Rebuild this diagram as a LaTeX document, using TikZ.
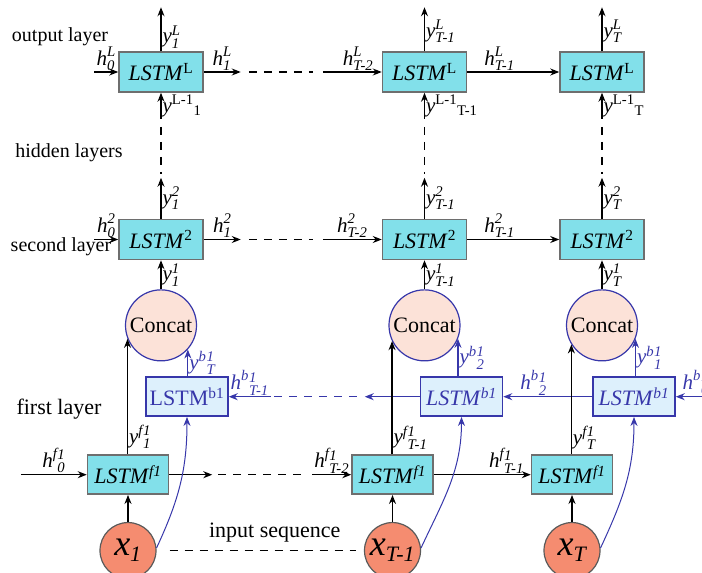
\documentclass[tikz,border=0pt]{standalone}
\usepackage{amsmath}
\usepackage{fontspec}
\setmainfont{Liberation Serif}
\usetikzlibrary{arrows, arrows.meta, positioning}
\definecolor{cellfill}{RGB}{130,224,234}
\definecolor{cellline}{RGB}{110,110,110}
\definecolor{bfill}{RGB}{221,240,252}
\definecolor{blueline}{RGB}{55,55,170}
\definecolor{catfill}{RGB}{252,226,216}
\definecolor{infill}{RGB}{245,140,112}
\definecolor{inline}{RGB}{90,90,90}
\tikzstyle{cell} = [rectangle, draw=cellline, fill=cellfill, line width=1.5pt, minimum width=84pt, minimum height=40pt, inner sep=0pt, font=\fontsize{22}{24}\selectfont]
\tikzstyle{fcell} = [cell, minimum width=81pt, minimum height=39pt]
\tikzstyle{bcell} = [cell, draw=blueline, fill=bfill, text=blueline, minimum width=82pt, minimum height=39pt]
\tikzstyle{concat} = [circle, draw=blueline, fill=catfill, line width=1.2pt, minimum size=71pt, inner sep=0pt, font=\fontsize{22}{24}\selectfont]
\tikzstyle{inp} = [circle, draw=inline, fill=infill, line width=1.2pt, minimum size=56pt, inner sep=0pt, font=\fontsize{36}{38}\selectfont]
\tikzstyle{line} = [line width=1.2pt, ->, >={Stealth[length=9pt, width=7pt]}]
\tikzstyle{bline} = [line, draw=blueline]
\tikzstyle{dashline} = [line width=1.5pt, dash pattern=on 8pt off 7pt]
\tikzstyle{txt} = [font=\fontsize{20}{24}\selectfont]
\tikzstyle{lbl} = [inner sep=1pt, font=\fontsize{21}{24}\selectfont]
\newcommand{\vlab}[3]{$\textit{#1}^{\textit{#2}}_{\textit{#3}}$}
\newcommand{\ylow}[1]{$\textit{y}^{\textup{L-1}}{}_{\textup{#1}}$}
\newcommand{\blab}[2]{$\textit{#1}^{\textit{b}}{}^{\textit{1}}_{\textit{#2}}$}
\newcommand{\flab}[2]{$\textit{#1}^{\textit{f}}{}^{\textit{1}}_{\textit{#2}}$}
\newcommand{\xin}[1]{$\textit{x}_{\textit{\fontsize{22}{22}\selectfont #1}}$}

\begin{document}
\begin{tikzpicture}[x=1pt, y=-1pt, node distance=30pt]
\useasboundingbox (0,0) rectangle (702,573);
% output layer
\node (lL1) [cell] at (161,72) {\textit{LSTM}\textsuperscript{L}};
\node (lL2) [cell, right=178pt of lL1] {\textit{LSTM}\textsuperscript{L}};
\node (lL3) [cell, right=92pt of lL2] {\textit{LSTM}\textsuperscript{L}};
% second layer
\node (l21) [cell, below=126pt of lL1] {\textit{LSTM}\textsuperscript{2}};
\node (l22) [cell, below=126pt of lL2] {\textit{LSTM}\textsuperscript{2}};
\node (l23) [cell, below=126pt of lL3] {\textit{LSTM}\textsuperscript{2}};
% concat
\node (c1) [concat, below=29pt of l21] {Concat};
\node (c2) [concat, below=29pt of l22] {Concat};
\node (c3) [concat, below=29pt of l23] {Concat};
% first layer, backward
\node (b11) [bcell, below=15pt of c1, xshift=26pt] {LSTM\textsuperscript{b1}};
\node (b12) [bcell, below=15pt of c2, xshift=37pt] {\textit{LSTM}\textsuperscript{\itshape b1}};
\node (b13) [bcell, below=15pt of c3, xshift=32pt] {\textit{LSTM}\textsuperscript{\itshape b1}};
% first layer, forward
\node (f11) [fcell, below=93pt of c1, xshift=-33pt] {\textit{LSTM}\textsuperscript{\itshape f1}};
\node (f12) [fcell, right=182pt of f11] {\textit{LSTM}\textsuperscript{\itshape f1}};
\node (f13) [fcell, right=97pt of f12] {\textit{LSTM}\textsuperscript{\itshape f1}};
% inputs
\node (x1) [inp, below=27pt of f11] {\xin{1}};
\node (x2) [inp, below=27pt of f12] {\xin{T-1}};
\node (x3) [inp, below=27pt of f13] {\xin{T}};

\node (tout) [txt] at (60,37) {output layer};
\node (thid) [txt] at (69,153) {hidden layers};
\node (tsec) [txt] at (61,247) {second layer};
\node (tfirst) [txt, font=\fontsize{22}{24}\selectfont] at (59,409) {first layer};

\coordinate [left=24pt of lL1] (inL);
\coordinate [right=37pt of lL1] (aL);
\coordinate [left=59pt of lL2] (bL);
\coordinate [above=44pt of lL1] (oL1);
\coordinate [above=44pt of lL2] (oL2);
\coordinate [above=44pt of lL3] (oL3);
\coordinate [below=26pt of lL1] (dL1);
\coordinate [below=26pt of lL2] (dL2);
\coordinate [below=26pt of lL3] (dL3);
\coordinate [left=24pt of l21] (in2);
\coordinate [right=37pt of l21] (a2);
\coordinate [left=59pt of l22] (b2);
\coordinate [above=41pt of l21] (o21);
\coordinate [above=41pt of l22] (o22);
\coordinate [above=41pt of l23] (o23);
\coordinate [right=40pt of b13] (inb);
\coordinate [left=55pt of b12] (ab);
\coordinate [right=42pt of b11] (bb);
\coordinate [left=66pt of f11] (inf);
\coordinate [right=43pt of f11] (af);
\coordinate [left=39pt of f12] (bf);

% output layer
\draw [line] (inL) -- node[lbl, above]{\vlab{h}{L}{0}} (lL1);
\draw [line] (lL1) -- node[lbl, above]{\vlab{h}{L}{1}} (aL);
\draw [dashline] ([xshift=8pt]aL) -- ([xshift=-10pt]bL);
\draw [line] (bL) -- node[lbl, above, pos=.6]{\vlab{h}{L}{T-2}} (lL2);
\draw [line] (lL2) -- node[lbl, above, pos=.35]{\vlab{h}{L}{T-1}} (lL3);
\draw [line] (lL1) -- node[lbl, right, pos=.32]{\vlab{y}{L}{1}} (oL1);
\draw [line] (lL2) -- node[lbl, right, pos=.45]{\vlab{y}{L}{T-1}} (oL2);
\draw [line] (lL3) -- node[lbl, right, pos=.45]{\vlab{y}{L}{T}} (oL3);
\draw [line] (dL1) -- node[lbl, right]{\ylow{1}} (lL1);
\draw [line] (dL2) -- node[lbl, right]{\ylow{T-1}} (lL2);
\draw [line] (dL3) -- node[lbl, right]{\ylow{T}} (lL3);
\draw [dashline] ([yshift=-8pt]dL1) -- ([yshift=4pt]o21);
\draw [dashline] ([yshift=-8pt]dL2) -- ([yshift=4pt]o22);
\draw [dashline] ([yshift=-8pt]dL3) -- ([yshift=4pt]o23);

% second layer
\draw [line] (in2) -- node[lbl, above]{\vlab{h}{2}{0}} (l21);
\draw [line] (l21) -- node[lbl, above]{\vlab{h}{2}{1}} (a2);
\draw [dashline] ([xshift=8pt]a2) -- ([xshift=-10pt]b2);
\draw [line] (b2) -- node[lbl, above, pos=.5]{\vlab{h}{2}{T-2}} (l22);
\draw [line] (l22) -- node[lbl, above, pos=.35]{\vlab{h}{2}{T-1}} (l23);
\draw [line] (l21) -- node[lbl, right]{\vlab{y}{2}{1}} (o21);
\draw [line] (l22) -- node[lbl, right]{\vlab{y}{2}{T-1}} (o22);
\draw [line] (l23) -- node[lbl, right]{\vlab{y}{2}{T}} (o23);
\draw [line] (c1) -- node[lbl, right]{\vlab{y}{1}{1}} (l21);
\draw [line] (c2) -- node[lbl, right]{\vlab{y}{1}{T-1}} (l22);
\draw [line] (c3) -- node[lbl, right]{\vlab{y}{1}{T}} (l23);

% backward direction
\draw [bline] (inb) -- node[lbl, above, text=blueline]{\blab{h}{0}} (b13);
\draw [bline] (b13) -- node[lbl, above, pos=.66, text=blueline]{\blab{h}{2}} (b12);
\draw [bline] (b12) -- (ab);
\draw [dashline, draw=blueline] ([xshift=-8pt]ab) -- ([xshift=3pt]bb);
\draw [bline] (bb) -- node[lbl, above, text=blueline]{\blab{h}{T-1}} (b11);
\draw [bline] (c1.-42 |- b11.north) -- node[lbl, right, text=blueline]{\blab{y}{T}} (c1.-42);
\draw [bline] (c2.-22 |- b12.north) -- node[lbl, right, text=blueline]{\blab{y}{2}} (c2.-22);
\draw [bline] (c3.-22 |- b13.north) -- node[lbl, right, text=blueline]{\blab{y}{1}} (c3.-22);

% forward direction
\draw [line] (inf) -- node[lbl, above]{\flab{h}{0}} (f11);
\draw [line] (f11) -- (af);
\draw [dashline] ([xshift=6pt]af) -- ([xshift=-9pt]bf);
\draw [line] (bf) -- node[lbl, above]{\flab{h}{T-2}} (f12);
\draw [line] (f12) -- node[lbl, above, pos=.75]{\flab{h}{T-1}} (f13);
\draw [line] (c1.-158 |- f11.north) -- node[lbl, right, pos=.15]{\flab{y}{1}} (c1.-158);
\draw [line] (c2.-154 |- f12.north) -- node[lbl, right, pos=.15]{\flab{y}{T-1}} (c2.-154);
\draw [line] (c3.-148 |- f13.north) -- node[lbl, right, pos=.15]{\flab{y}{T}} (c3.-148);

% inputs
\draw [line] (x1) -- (f11);
\draw [line] (x2) -- (f12);
\draw [line] (x3) -- (f13);
\draw [bline, line width=1pt] (x1.5) to[out=65, in=-90] (b11.south);
\draw [bline, line width=1pt] (x2.5) to[out=65, in=-90] (b12.south);
\draw [bline, line width=1pt] (x3.5) to[out=65, in=-90] (b13.south);
\draw [dashline, shorten <=13pt, shorten >=8pt] (x1) -- node[txt, above=4pt, pos=.57, font=\fontsize{22}{24}\selectfont]{input sequence} (x2);
\end{tikzpicture}
\end{document}
